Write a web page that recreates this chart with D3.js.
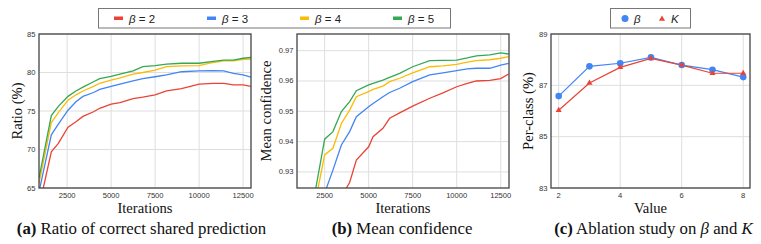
<!DOCTYPE html>
<html>
<head>
<meta charset="utf-8">
<title>Ablation curves</title>
<script src="https://d3js.org/d3.v7.min.js"></script>
<style>
  body { margin: 0; background: #fff; }
  .tick-lbl { font-family: "Liberation Sans", Arial, sans-serif; font-size: 7.6px; fill: #333; }
  .ax-title { font-family: "Liberation Serif", "Times New Roman", serif; font-size: 14.6px; fill: #111; }
  .caption { font-family: "Liberation Serif", "Times New Roman", serif; font-size: 16.8px; fill: #111; }
  .leg { font-family: "Liberation Sans", Arial, sans-serif; font-size: 11.5px; fill: #222; }
</style>
</head>
<body>
<svg width="761" height="244"></svg>
<script>
// ---- data ----
const betas = ["2", "3", "4", "5"];
const colors = ["#EA4335", "#4285F4", "#FBBC05", "#34A853"];

// panel (a): ratio of correct shared prediction (%)
const ratioIter = [900, 1600, 2000, 2550, 3000, 3400, 4000, 4350, 5000, 5500, 6250, 6800, 7500, 8150, 9000, 10000, 10800, 11400, 11950, 12500, 12950];
const ratioB2 = [62.5, 69.7, 70.8, 72.9, 73.6, 74.3, 74.9, 75.35, 75.9, 76.1, 76.6, 76.8, 77.1, 77.6, 77.9, 78.5, 78.6, 78.6, 78.4, 78.4, 78.2];
const ratioB3 = [64.5, 71.9, 73.3, 75.1, 76.2, 76.9, 77.4, 77.8, 78.2, 78.5, 78.9, 79.2, 79.45, 79.7, 80.1, 80.2, 80.25, 80.2, 79.9, 79.7, 79.4];
const ratioB4 = [65.6, 73.5, 74.8, 76.4, 77.1, 77.6, 78.2, 78.6, 79.0, 79.3, 79.8, 80.0, 80.3, 80.75, 80.85, 80.9, 81.3, 81.5, 81.5, 81.7, 81.75];
const ratioB5 = [66.3, 74.4, 75.6, 76.9, 77.6, 78.1, 78.8, 79.2, 79.5, 79.8, 80.2, 80.75, 80.9, 81.1, 81.2, 81.2, 81.45, 81.6, 81.6, 81.85, 81.95];

// panel (b): mean confidence
const confIter = [900, 2000, 2500, 2970, 3450, 3920, 4300, 5000, 5250, 5810, 6190, 6760, 7500, 8470, 9220, 10000, 10600, 11120, 11880, 12500, 12950];
const confB2 = [0.895, 0.910, 0.914, 0.918, 0.922, 0.9265, 0.9339, 0.9383, 0.9416, 0.9444, 0.9477, 0.9495, 0.9517, 0.9543, 0.9561, 0.9581, 0.9592, 0.9600, 0.9602, 0.9608, 0.9623];
const confB3 = [0.905, 0.918, 0.923, 0.9306, 0.9389, 0.9433, 0.9482, 0.9515, 0.9526, 0.9548, 0.9562, 0.9576, 0.9598, 0.9620, 0.9627, 0.9634, 0.9640, 0.9642, 0.9642, 0.9652, 0.9658];
const confB4 = [0.910, 0.921, 0.9356, 0.9378, 0.9460, 0.9504, 0.9548, 0.9565, 0.9572, 0.9583, 0.9598, 0.9609, 0.9627, 0.9647, 0.9650, 0.9655, 0.9662, 0.9667, 0.9670, 0.9675, 0.9680];
const confB5 = [0.912, 0.9247, 0.9408, 0.9433, 0.9499, 0.9532, 0.9568, 0.9587, 0.9592, 0.9603, 0.9612, 0.9625, 0.9647, 0.9667, 0.9668, 0.9669, 0.9676, 0.9683, 0.9686, 0.9693, 0.9689];

// panel (c): ablation on beta and K
const abValue = [2, 3, 4, 5, 6, 7, 8];
const abBeta = [86.58, 87.74, 87.86, 88.09, 87.79, 87.61, 87.32];
const abK = [86.03, 87.09, 87.70, 88.05, 87.79, 87.47, 87.47];

const iterTicks = [2500, 5000, 7500, 10000, 12500];
const ratioTicks = [65, 70, 75, 80, 85];
const confTicks = [0.93, 0.94, 0.95, 0.96, 0.97];
const abXTicks = [2, 4, 6, 8];
const abYTicks = [83, 85, 87, 89];

const svg = d3.select("svg");

// draws grid, tick labels, titles and frame; returns scales plus a group for the marks
function panel(id, left, right, xDom, yDom, xTicks, yTicks, yFmt, xTitle, yTitle, yTitleX) {
  const top = 34, bottom = 188;
  const x = d3.scaleLinear().domain(xDom).range([left, right]);
  const y = d3.scaleLinear().domain(yDom).range([bottom, top]);
  const g = svg.append("g");
  g.append("defs").append("clipPath").attr("id", id)
    .append("rect").attr("x", left).attr("y", top).attr("width", right - left).attr("height", bottom - top);

  g.selectAll(".vg").data(xTicks).enter().append("line")
    .attr("x1", d => x(d)).attr("x2", d => x(d)).attr("y1", top).attr("y2", bottom)
    .attr("stroke", "#dedede").attr("stroke-width", 1);
  g.selectAll(".hg").data(yTicks).enter().append("line")
    .attr("x1", left).attr("x2", right).attr("y1", d => y(d)).attr("y2", d => y(d))
    .attr("stroke", "#dedede").attr("stroke-width", 1);

  g.selectAll(".xl").data(xTicks).enter().append("text").attr("class", "tick-lbl")
    .attr("x", d => x(d)).attr("y", bottom + 9.5).attr("text-anchor", "middle").text(d => d);
  g.selectAll(".yl").data(yTicks).enter().append("text").attr("class", "tick-lbl")
    .attr("x", left - 3.5).attr("y", d => y(d) + 2.5).attr("text-anchor", "end").text(yFmt);

  g.append("text").attr("class", "ax-title").attr("x", (left + right) / 2).attr("y", 212.5)
    .attr("text-anchor", "middle").text(xTitle);
  g.append("text").attr("class", "ax-title").attr("transform", `translate(${yTitleX},${(top + bottom) / 2}) rotate(-90)`)
    .attr("text-anchor", "middle").text(yTitle);

  const marks = g.append("g").attr("clip-path", `url(#${id})`);
  g.append("rect").attr("x", left).attr("y", top).attr("width", right - left).attr("height", bottom - top)
    .attr("fill", "none").attr("stroke", "#444").attr("stroke-width", 1.3);
  return { x, y, g, marks };
}

function drawCurves(p, xs, series) {
  const line = d3.line().x((d, i) => p.x(xs[i])).y(d => p.y(d));
  series.forEach((s, k) => {
    p.marks.append("path").attr("d", line(s)).attr("fill", "none")
      .attr("stroke", colors[k]).attr("stroke-width", 1.3);
  });
}

// (a)
const pa = panel("clipA", 39, 251, [900, 12950], [65, 85], iterTicks, ratioTicks, d => d, "Iterations", "Ratio (%)", 22);
drawCurves(pa, ratioIter, [ratioB2, ratioB3, ratioB4, ratioB5]);

// (b)
const pb = panel("clipB", 297, 509, [930, 12970], [0.9247, 0.9755], iterTicks, confTicks, d => d.toFixed(2), "Iterations", "Mean confidence", 271);
drawCurves(pb, confIter, [confB2, confB3, confB4, confB5]);

// (c)
const pc = panel("clipC", 551, 750, [1.75, 8.22], [83, 89], abXTicks, abYTicks, d => d, "Value", "Per-class (%)", 533);
const lc = d3.line().x((d, i) => pc.x(abValue[i])).y(d => pc.y(d));
const cg = pc.g.append("g");
cg.append("path").attr("d", lc(abBeta)).attr("fill", "none").attr("stroke", "#4285F4").attr("stroke-width", 1.2);
cg.append("path").attr("d", lc(abK)).attr("fill", "none").attr("stroke", "#EA4335").attr("stroke-width", 1.2);
cg.selectAll(".bd").data(abBeta).enter().append("circle")
  .attr("cx", (d, i) => pc.x(abValue[i])).attr("cy", d => pc.y(d)).attr("r", 3.3).attr("fill", "#4285F4");
const tri = d3.symbol().type(d3.symbolTriangle).size(16);
cg.selectAll(".kd").data(abK).enter().append("path").attr("d", tri)
  .attr("transform", (d, i) => `translate(${pc.x(abValue[i])},${pc.y(d)})`).attr("fill", "#EA4335");

// legends
const legA = svg.append("g");
legA.append("rect").attr("x", 98.5).attr("y", 8.5).attr("width", 352).attr("height", 19.5)
  .attr("fill", "#fff").attr("stroke", "#777").attr("stroke-width", 1);
const legX = [114, 207, 300, 393];
betas.forEach((b, k) => {
  legA.append("rect").attr("x", legX[k]).attr("y", 16.5).attr("width", 9).attr("height", 3.5).attr("fill", colors[k]);
  const t = legA.append("text").attr("class", "leg").attr("x", legX[k] + 15).attr("y", 22.5);
  t.append("tspan").attr("font-style", "italic").text("β");
  t.append("tspan").text(" = " + b);
});

const legC = svg.append("g");
legC.append("rect").attr("x", 610.5).attr("y", 8.5).attr("width", 80).attr("height", 19.5)
  .attr("fill", "#fff").attr("stroke", "#777").attr("stroke-width", 1);
legC.append("circle").attr("cx", 625).attr("cy", 18.5).attr("r", 3.5).attr("fill", "#4285F4");
legC.append("text").attr("class", "leg").attr("x", 634).attr("y", 22.5).attr("font-style", "italic").text("β");
legC.append("path").attr("d", tri).attr("transform", "translate(662,19)").attr("fill", "#EA4335");
legC.append("text").attr("class", "leg").attr("x", 671).attr("y", 22.5).attr("font-style", "italic").text("K");

// captions
function caption(cx, label, parts) {
  const t = svg.append("text").attr("class", "caption").attr("x", cx).attr("y", 234).attr("text-anchor", "middle");
  t.append("tspan").attr("font-weight", "bold").text(label);
  parts.forEach(p => t.append("tspan").attr("font-style", p.i ? "italic" : "normal").text(p.s));
}
caption(141.5, "(a)", [{ s: " Ratio of correct shared prediction" }]);
caption(402, "(b)", [{ s: " Mean confidence" }]);
caption(653.5, "(c)", [{ s: " Ablation study on " }, { s: "β", i: true }, { s: " and " }, { s: "K", i: true }]);
</script>
</body>
</html>
